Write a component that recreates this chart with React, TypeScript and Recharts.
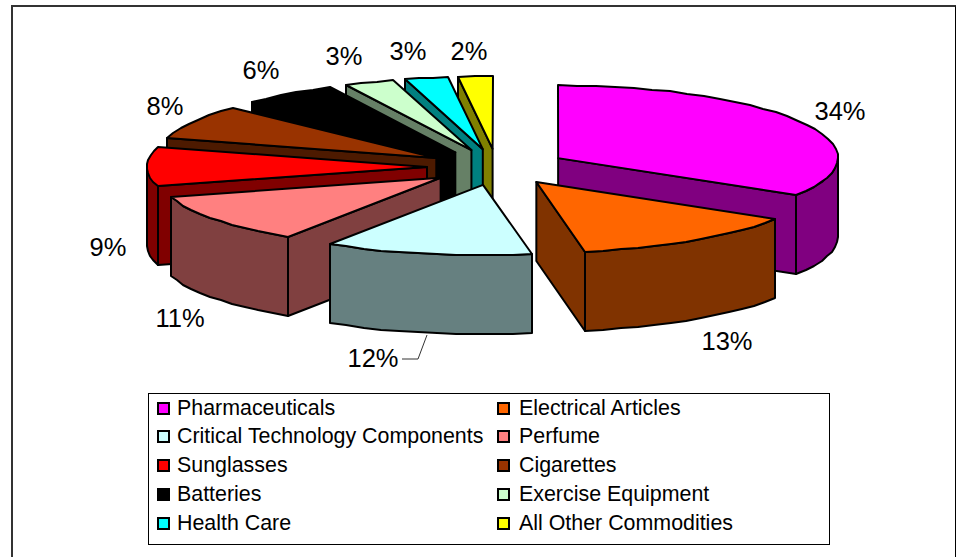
import React from 'react';
import { PieChart, Pie, Legend } from 'recharts';

const categories = [
  'Pharmaceuticals', 'Electrical Articles', 'Critical Technology Components', 'Perfume', 'Sunglasses',
  'Cigarettes', 'Batteries', 'Exercise Equipment', 'Health Care', 'All Other Commodities',
];
const shares = [33.8, 13.4, 12.0, 11.4, 8.9, 7.6, 5.5, 2.9, 2.5, 2.0];
const percentLabels = ['34%', '13%', '12%', '11%', '9%', '8%', '6%', '3%', '3%', '2%'];
const topColors = ['#ff00ff', '#ff6600', '#ccffff', '#ff8080', '#ff0000', '#993300', '#000000', '#ccffcc', '#00ffff', '#ffff00'];
const wallColors = ['#800080', '#803300', '#668080', '#804040', '#800000', '#4d1a00', '#000000', '#668066', '#008080', '#808000'];

// layout, not data
const labelCentres = [[840, 111], [727, 341], [373, 358], [180, 318], [108, 247], [165, 106], [261, 70], [344, 56], [408, 51], [469, 51]];
const paintOrder = [9, 8, 7, 6, 5, 4, 3, 0, 1, 2];
const SQUASH_BACK = 0.26;
const SQUASH_FRONT = 0.252;
const DEPTH = 79;
const EXPLODE = 0.25;

const chartData = categories.map((name, i) => ({ name, value: shares[i] }));
const rad = (deg: number) => (deg * Math.PI) / 180;

const makeSlice = (only: number) => (props: any) => {
  const i = categories.indexOf(props.name);
  if (i !== only) return <g />;
  const { cx, cy, outerRadius: r, startAngle: s, endAngle: e } = props;
  const mid = (s + e) / 2;
  const ax = cx + EXPLODE * r * Math.cos(rad(mid));
  const ay = cy - EXPLODE * r * SQUASH_BACK * Math.sin(rad(mid));
  const px = (a: number) => Math.round(ax + r * Math.cos(rad(a)));
  const py = (a: number) => {
    const sn = Math.sin(rad(a));
    return Math.round(ay - r * (sn > 0 ? SQUASH_BACK : SQUASH_FRONT) * sn);
  };
  // the rim is a short polyline, clockwise from a to b
  const rim = (a: number, b: number, drop = 0) => {
    const pts: string[] = [];
    const n = Math.max(1, Math.ceil((a - b) / 4));
    for (let k = 0; k <= n; k++) {
      const t = a + ((b - a) * k) / n;
      pts.push(`${px(t)},${py(t) + drop}`);
    }
    return pts;
  };

  const top = `M${ax},${ay} L${rim(s, e).join(' L')} Z`;
  const side = (a: number) =>
    `M${ax},${ay} L${px(a)},${py(a)} L${px(a)},${py(a) + DEPTH} L${ax},${ay + DEPTH} Z`;

  // only the faces turned to the viewer get drawn
  const ws = Math.min(s, 0);
  const we = Math.max(e, -180);
  const outer = ws > we
    ? `M${rim(ws, we).join(' L')} L${rim(ws, we, DEPTH).reverse().join(' L')} Z`
    : null;
  const showStart = Math.sin(rad(90 - s)) < -0.001;
  const showEnd = Math.sin(rad(90 - e)) > 0.001;

  const faceStyle = { stroke: '#000', strokeWidth: 2, strokeLinejoin: 'round' as const };

  return (
    <g>
      {showStart && <path d={side(s)} fill={wallColors[i]} {...faceStyle} />}
      {showEnd && <path d={side(e)} fill={wallColors[i]} {...faceStyle} />}
      {outer && <path d={outer} fill={wallColors[i]} {...faceStyle} />}
      <path d={top} fill={topColors[i]} {...faceStyle} />
      {i === 2 && <polyline points="427,335 418,359 402,359" fill="none" stroke="#333" strokeWidth={1} />}
      <text x={labelCentres[i][0]} y={labelCentres[i][1]} textAnchor="middle" dominantBaseline="central"
        fontFamily="Liberation Sans" fontSize={25.5} fill="#000">
        {percentLabels[i]}
      </text>
    </g>
  );
};

const LegendBox = () => (
  <div style={{
    width: 680, height: 150, border: '1px solid #000', background: '#fff', position: 'relative',
    fontFamily: 'Liberation Sans', fontSize: 21.4, color: '#000', boxSizing: 'content-box',
  }}>
    {categories.map((name, i) => {
      const col = i % 2;
      const row = Math.floor(i / 2);
      return (
        <div key={name} style={{ position: 'absolute', left: col ? 348 : 8, top: row * 28.8, height: 28, display: 'flex', alignItems: 'center', whiteSpace: 'nowrap' }}>
          <span style={{ width: 9, height: 9, border: '2px solid #000', background: topColors[i], marginRight: col ? 9 : 7, display: 'inline-block' }} />
          <span>{name}</span>
        </div>
      );
    })}
  </div>
);

export default function App() {
  return (
    <div style={{ position: 'absolute', left: 0, top: 0, width: 956, height: 557, background: '#fff', overflow: 'hidden' }}>
      <div style={{ position: 'absolute', left: 11, top: 5, width: 942, height: 560, borderLeft: '2px solid #333', borderTop: '2px solid #333', borderRight: '2px solid #000' }} />
      <div style={{ position: 'absolute', left: 0, top: 0 }}>
        <PieChart width={956} height={557} margin={{ top: 0, right: 0, bottom: 0, left: 0 }}>
          {paintOrder.map((idx) => (
            <Pie
              key={idx}
              data={chartData}
              dataKey="value"
              nameKey="name"
              cx={497}
              cy={167}
              outerRadius={280}
              startAngle={90}
              endAngle={-270}
              paddingAngle={0}
              isAnimationActive={false}
              shape={makeSlice(idx)}
            />
          ))}
          <Legend content={<LegendBox />} wrapperStyle={{ left: 148, top: 393, width: 682, height: 152, bottom: 'auto' }} />
        </PieChart>
      </div>
    </div>
  );
}
